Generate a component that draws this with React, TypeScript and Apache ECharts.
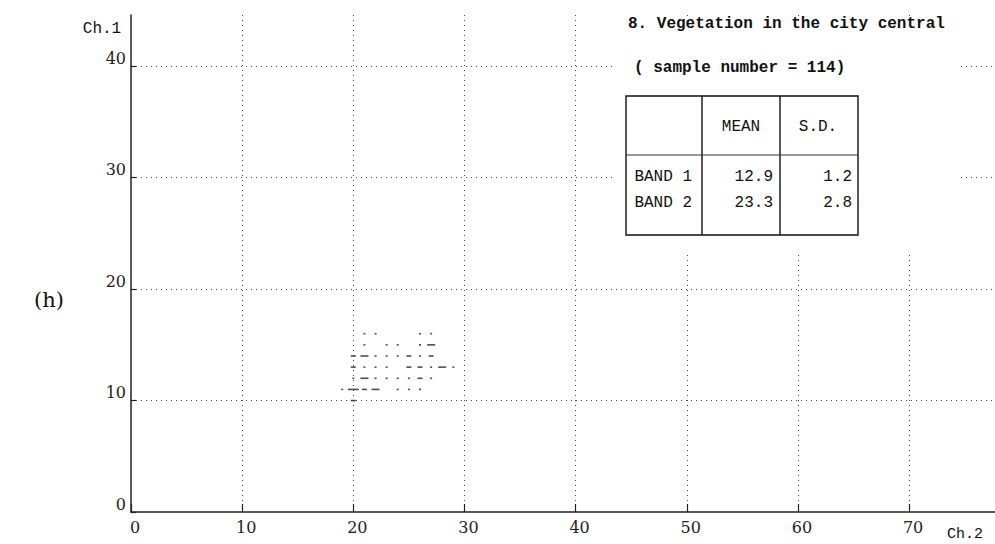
import React, { useEffect, useRef } from "react";
import * as echarts from "echarts";

// Ch.2 (x), Ch.1 (y), number of samples at that cell
const ch2Values = [
  21, 22, 26, 27,
  21, 23, 24, 26, 27,
  20, 21, 22, 23, 24, 25, 26, 27,
  20, 21, 22, 23, 25, 26, 27, 28, 29,
  20, 21, 22, 23, 24, 25, 26, 27,
  19, 20, 21, 22, 24, 25, 26,
  20,
];
const ch1Values = [
  16, 16, 16, 16,
  15, 15, 15, 15, 15,
  14, 14, 14, 14, 14, 14, 14, 14,
  13, 13, 13, 13, 13, 13, 13, 13, 13,
  12, 12, 12, 12, 12, 12, 12, 12,
  11, 11, 11, 11, 11, 11, 11,
  10,
];
const counts = [
  1, 1, 1, 1,
  1, 1, 1, 1, 3,
  2, 3, 1, 1, 1, 2, 1, 2,
  2, 1, 1, 1, 2, 2, 1, 3, 1,
  1, 3, 1, 1, 1, 1, 2, 1,
  1, 4, 2, 3, 1, 1, 1,
  2,
];

const titleLine1 = "8. Vegetation in the city central";
const titleLine2 = "( sample number = 114)";
const tableHeaders = ["", "MEAN", "S.D."];
const bandNames = ["BAND 1", "BAND 2"];
const bandMeans = ["12.9", "23.3"];
const bandSDs = ["1.2", "2.8"];
const panelLabel = "(h)";
const yAxisName = "Ch.1";
const xAxisName = "Ch.2";

export default function App() {
  const ref = useRef<HTMLDivElement>(null);
  useEffect(() => {
    if (!ref.current) return;
    const chart = echarts.init(ref.current, null, { renderer: "svg" });
    const data = ch2Values.map((x, i) => [x, ch1Values[i], counts[i]]);
    const mono = "Liberation Mono";
    const tX = 626, tY = 96, tW = 232, tH = 139;
    const c1 = 702, c2 = 780, r1 = 155;
    const lineStyle = { stroke: "#111", lineWidth: 1.4 };
    const tableText = { fontFamily: mono, fontSize: 16, fill: "#111" };
    const graphic: any[] = [
      { type: "rect", shape: { x: 615, y: 24, width: 343, height: 230 }, style: { fill: "#fff" }, z: 10 },
      { type: "text", x: 628, y: 24, style: { text: titleLine1, fontFamily: mono, fontWeight: "bold", fontSize: 16, fill: "#111", verticalAlign: "middle" }, z: 11 },
      { type: "text", x: 634, y: 68, style: { text: titleLine2, fontFamily: mono, fontWeight: "bold", fontSize: 16, fill: "#111", verticalAlign: "middle" }, z: 11 },
      { type: "rect", shape: { x: tX, y: tY, width: tW, height: tH }, style: { fill: "#fff", ...lineStyle }, z: 11 },
      { type: "line", shape: { x1: c1, y1: tY, x2: c1, y2: tY + tH }, style: lineStyle, z: 12 },
      { type: "line", shape: { x1: c2, y1: tY, x2: c2, y2: tY + tH }, style: lineStyle, z: 12 },
      { type: "line", shape: { x1: tX, y1: r1, x2: tX + tW, y2: r1 }, style: { stroke: "#333", lineWidth: 1 }, z: 12 },
      { type: "text", x: 741, y: 127, style: { text: tableHeaders[1], ...tableText, align: "center", verticalAlign: "middle" }, z: 12 },
      { type: "text", x: 818, y: 127, style: { text: tableHeaders[2], ...tableText, align: "center", verticalAlign: "middle" }, z: 12 },
    ];
    bandNames.forEach((b, i) => {
      const y = 177 + i * 26;
      graphic.push({ type: "text", x: 692, y, style: { text: b, ...tableText, align: "right", verticalAlign: "middle" }, z: 12 });
      graphic.push({ type: "text", x: 773, y, style: { text: bandMeans[i], ...tableText, align: "right", verticalAlign: "middle" }, z: 12 });
      graphic.push({ type: "text", x: 852, y, style: { text: bandSDs[i], ...tableText, align: "right", verticalAlign: "middle" }, z: 12 });
    });
    graphic.push({ type: "text", x: 49, y: 300, style: { text: panelLabel, fontFamily: "DejaVu Serif", fontSize: 21, fill: "#111", align: "center", verticalAlign: "middle" } });
    graphic.push({ type: "text", x: 102, y: 29, style: { text: yAxisName, fontFamily: mono, fontSize: 16, fill: "#111", align: "center", verticalAlign: "middle" } });
    graphic.push({ type: "text", x: 965, y: 534, style: { text: xAxisName, fontFamily: mono, fontSize: 15, fill: "#111", align: "center", verticalAlign: "middle" } });

    const splitLine = { show: true, showMinLine: false, showMaxLine: false, lineStyle: { color: "#444", width: 1, type: [1, 4] } };
    chart.setOption({
      animation: false,
      backgroundColor: "#fff",
      grid: { left: 131, right: -3, top: 15, bottom: 32, containLabel: false, outerBoundsMode: "none" },
      xAxis: {
        type: "value", min: 0, max: 78, interval: 10,
        axisLine: { show: true, onZero: false, lineStyle: { color: "#222", width: 1.5 } },
        axisTick: { show: true, inside: true, length: 8, lineStyle: { color: "#222", width: 1.2 } },
        axisLabel: { showMaxLabel: false, margin: 7, padding: [0, 0, 0, 8], fontFamily: "DejaVu Serif", fontSize: 16, color: "#222" },
        splitLine,
      },
      yAxis: {
        type: "value", min: 0, max: 44.6, interval: 10,
        axisLine: { show: true, onZero: false, lineStyle: { color: "#222", width: 1.5 } },
        axisTick: { show: true, inside: true, length: 5, lineStyle: { color: "#222", width: 1.2 } },
        axisLabel: { showMaxLabel: false, margin: 5, verticalAlign: "bottom", fontFamily: "DejaVu Serif", fontSize: 16, color: "#222" },
        splitLine,
      },
      series: [
        {
          type: "scatter",
          data,
          symbol: "rect",
          symbolSize: (v: number[]) => [2 + (v[2] - 1) * 3, 1.6],
          itemStyle: { color: "#222" },
        },
      ],
      graphic,
    });
    return () => chart.dispose();
  }, []);
  return <div ref={ref} style={{ position: "fixed", left: 0, top: 0, width: 995, height: 544, background: "#fff" }} />;
}
